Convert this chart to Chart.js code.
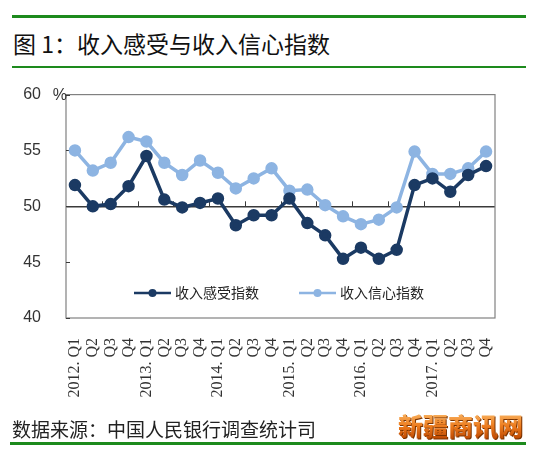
<!DOCTYPE html>
<html>
<head>
<meta charset="utf-8">
<script src="https://cdn.jsdelivr.net/npm/chart.js@4.4.0/dist/chart.umd.min.js"></script>
<style>
  body { margin: 0; background: #fff; }
  #page { position: relative; width: 550px; height: 461px; overflow: hidden; font-family: "Noto Sans CJK SC", sans-serif; }
  .rule { position: absolute; left: 12px; width: 514px; background: #1d8a1d; }
  #title { position: absolute; left: 13px; top: 28px; font-size: 23px; line-height: 30px; color: #111; white-space: nowrap; }
  #wrap { position: absolute; left: 0; top: 60px; width: 550px; height: 360px; }
  #source { position: absolute; left: 12px; top: 416px; font-size: 19px; line-height: 26px; color: #222; white-space: nowrap; }
  #mark { position: absolute; left: 398px; top: 410px; font-size: 25px; line-height: 30px; font-weight: 900; white-space: nowrap;
          background: linear-gradient(#fcc070, #ec7a1c 55%, #b94400); -webkit-background-clip: text; background-clip: text;
          color: transparent; filter: drop-shadow(1px 1px 0 #7a3300); }
</style>
</head>
<body>
<div id="page">
  <div class="rule" style="top:15px;height:3px"></div>
  <div id="title">图 1：收入感受与收入信心指数</div>
  <div class="rule" style="top:66px;height:2px"></div>
  <div id="wrap"><canvas id="chart" width="550" height="360"></canvas></div>
  <div id="source">数据来源：中国人民银行调查统计司</div>
  <div id="mark">新疆商讯网</div>
  <div class="rule" style="top:442px;height:3px;left:10px;width:516px"></div>
</div>
<script>
  // quarters 2012.Q1 .. 2017.Q4
  const quarters = [
    '2012. Q1', 'Q2', 'Q3', 'Q4',
    '2013. Q1', 'Q2', 'Q3', 'Q4',
    '2014. Q1', 'Q2', 'Q3', 'Q4',
    '2015. Q1', 'Q2', 'Q3', 'Q4',
    '2016. Q1', 'Q2', 'Q3', 'Q4',
    '2017. Q1', 'Q2', 'Q3', 'Q4'
  ];
  const incomeFeel = [51.9, 50.0, 50.2, 51.8, 54.5, 50.6, 49.9, 50.3, 50.7, 48.3, 49.2, 49.2,
                      50.7, 48.5, 47.4, 45.3, 46.3, 45.3, 46.1, 51.9, 52.5, 51.3, 52.8, 53.6];
  const incomeConfidence = [55.0, 53.2, 53.9, 56.2, 55.8, 53.9, 52.8, 54.1, 53.0, 51.6, 52.5, 53.4,
                            51.4, 51.5, 50.1, 49.1, 48.4, 48.8, 49.9, 54.9, 52.9, 52.9, 53.4, 54.9];
  const yTicks = [40, 45, 50, 55, 60];
  const seriesNames = ['收入感受指数', '收入信心指数'];

  const darkBlue = '#1b3a63';
  const lightBlue = '#8db4e2';

  // plot frame, axis line at 50, small tick marks, unit label
  const frame = {
    id: 'frame',
    beforeDatasetsDraw(chart) {
      const { ctx, chartArea: a, scales: { x, y } } = chart;
      ctx.save();
      ctx.strokeStyle = '#808080';
      ctx.lineWidth = 1.2;
      ctx.strokeRect(a.left, a.top, a.right - a.left, a.bottom - a.top);

      const y50 = y.getPixelForValue(50);
      ctx.strokeStyle = '#3a3a3a';
      ctx.lineWidth = 1;
      for (let i = 2; i < quarters.length; i += 2) {
        const px = Math.round((x.getPixelForValue(i - 1) + x.getPixelForValue(i)) / 2) + 0.5;
        ctx.beginPath(); ctx.moveTo(px, y50); ctx.lineTo(px, y50 - 5); ctx.stroke();
      }
      yTicks.forEach(v => {
        const py = Math.round(y.getPixelForValue(v)) + 0.5;
        ctx.beginPath(); ctx.moveTo(a.left, py); ctx.lineTo(a.left + 4, py); ctx.stroke();
      });

      ctx.fillStyle = '#333';
      ctx.font = '16px "Liberation Sans", sans-serif';
      ctx.textAlign = 'right';
      ctx.textBaseline = 'middle';
      ctx.fillText('%', a.left + 1, y.getPixelForValue(60) + 1);
      ctx.restore();
    }
  };

  // legend sitting inside the plot, near the bottom
  const innerLegend = {
    id: 'innerLegend',
    afterDraw(chart) {
      const { ctx, chartArea: a } = chart;
      const ly = a.bottom - 25;
      const starts = [a.left + 68, a.left + 233];
      ctx.save();
      chart.data.datasets.forEach((ds, i) => {
        const x0 = starts[i];
        ctx.strokeStyle = ds.borderColor;
        ctx.lineWidth = 2.5;
        ctx.beginPath(); ctx.moveTo(x0, ly); ctx.lineTo(x0 + 37, ly); ctx.stroke();
        ctx.fillStyle = ds.pointBackgroundColor;
        ctx.beginPath(); ctx.arc(x0 + 18.5, ly, 4, 0, Math.PI * 2); ctx.fill();
        ctx.fillStyle = '#222';
        ctx.font = '14px "Noto Sans CJK SC", sans-serif';
        ctx.textAlign = 'left';
        ctx.textBaseline = 'middle';
        ctx.fillText(ds.label, x0 + 41, ly);
      });
      ctx.restore();
    }
  };

  new Chart(document.getElementById('chart'), {
    type: 'line',
    data: {
      labels: quarters,
      datasets: [
        { label: seriesNames[0], data: incomeFeel, borderColor: darkBlue, backgroundColor: darkBlue,
          pointBackgroundColor: darkBlue, pointBorderColor: darkBlue, borderWidth: 3.5, pointRadius: 4.5, tension: 0 },
        { label: seriesNames[1], data: incomeConfidence, borderColor: lightBlue, backgroundColor: lightBlue,
          pointBackgroundColor: lightBlue, pointBorderColor: lightBlue, borderWidth: 3.5, pointRadius: 4.5, tension: 0 }
      ]
    },
    options: {
      responsive: false,
      animation: false,
      layout: { padding: { top: 15, right: 55, left: 0, bottom: 0 } },
      plugins: { legend: { display: false }, tooltip: { enabled: false } },
      scales: {
        x: {
          offset: true,
          grid: { display: false, drawTicks: false },
          border: { display: false },
          ticks: { autoSkip: false, minRotation: 90, maxRotation: 90, padding: 20, color: '#333',
                   font: { family: '"Liberation Serif", serif', size: 16 } },
          afterFit: s => { s.height = 102; }
        },
        y: {
          min: 40, max: 60,
          afterBuildTicks: s => { s.ticks = yTicks.map(v => ({ value: v })); },
          grid: { drawTicks: false, lineWidth: 1.5,
                  color: c => (c.tick && c.tick.value === 50) ? '#3a3a3a' : 'rgba(0,0,0,0)' },
          border: { display: false },
          ticks: { padding: 25, color: '#333', font: { family: '"Liberation Sans", sans-serif', size: 16 } },
          afterFit: s => { s.width = 66; }
        }
      }
    },
    plugins: [frame, innerLegend]
  });
</script>
</body>
</html>
